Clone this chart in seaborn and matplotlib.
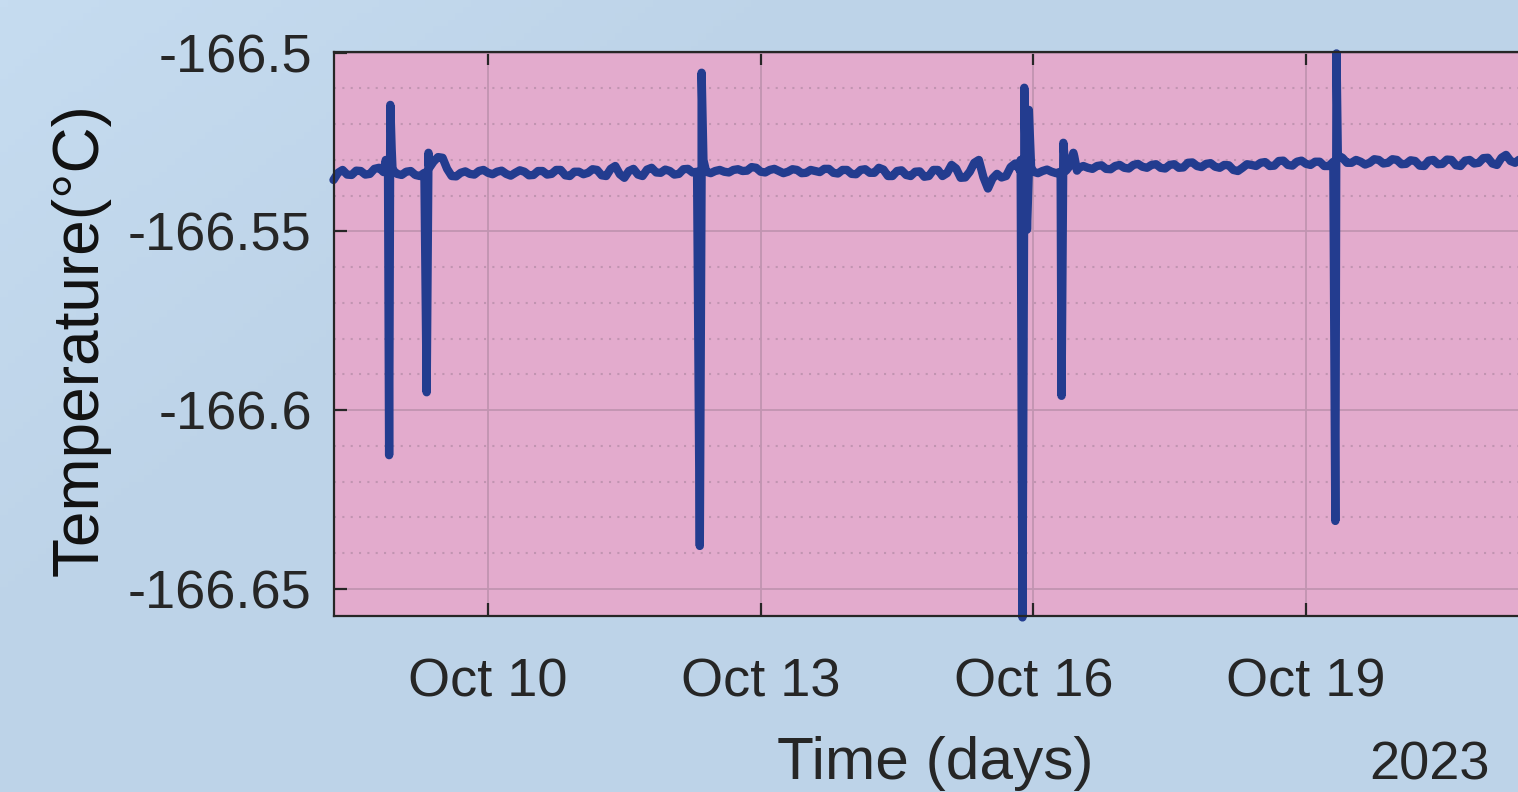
import numpy as np
import pandas as pd
import matplotlib
matplotlib.use("Agg")
import matplotlib.pyplot as plt
import matplotlib.dates as mdates
from matplotlib.ticker import FixedLocator, MultipleLocator
import seaborn as sns

# ---------------- data ----------------
# regular baseline readings every 72 min starting Oct 8, 07:12
base_start = "2023-10-08 07:12"
base_temps = [
    -166.5356, -166.5336, -166.5328, -166.5341, -166.5342, -166.5330, -166.5331, -166.5341, -166.5339, -166.5325,
    -166.5322, -166.5334, -166.5333, -166.5330, -166.5339, -166.5342, -166.5333, -166.5331, -166.5342, -166.5345,
    -166.5336, -166.5315, -166.5305, -166.5292, -166.5294, -166.5325, -166.5345, -166.5346, -166.5336, -166.5332,
    -166.5339, -166.5341, -166.5331, -166.5328, -166.5336, -166.5340, -166.5333, -166.5330, -166.5339, -166.5344,
    -166.5336, -166.5329, -166.5333, -166.5343, -166.5342, -166.5331, -166.5331, -166.5341, -166.5339, -166.5328,
    -166.5328, -166.5343, -166.5345, -166.5333, -166.5333, -166.5340, -166.5336, -166.5326, -166.5328, -166.5343,
    -166.5345, -166.5325, -166.5317, -166.5340, -166.5350, -166.5331, -166.5325, -166.5341, -166.5345, -166.5327,
    -166.5322, -166.5335, -166.5336, -166.5327, -166.5331, -166.5341, -166.5339, -166.5326, -166.5325, -166.5335,
    -166.5333, -166.5330, -166.5333, -166.5337, -166.5331, -166.5328, -166.5333, -166.5335, -166.5328, -166.5326,
    -166.5331, -166.5330, -166.5320, -166.5322, -166.5333, -166.5335, -166.5328, -166.5325, -166.5331, -166.5337,
    -166.5333, -166.5326, -166.5328, -166.5337, -166.5336, -166.5328, -166.5331, -166.5334, -166.5325, -166.5325,
    -166.5336, -166.5338, -166.5328, -166.5328, -166.5339, -166.5340, -166.5328, -166.5326, -166.5336, -166.5336,
    -166.5322, -166.5327, -166.5345, -166.5345, -166.5331, -166.5329, -166.5342, -166.5345, -166.5333, -166.5332,
    -166.5347, -166.5345, -166.5328, -166.5328, -166.5345, -166.5337, -166.5314, -166.5324, -166.5350, -166.5349,
    -166.5333, -166.5308, -166.5300, -166.5348, -166.5380, -166.5352, -166.5339, -166.5349, -166.5345, -166.5320,
    -166.5310, -166.5328, -166.5333, -166.5329, -166.5333, -166.5337, -166.5331, -166.5327, -166.5333, -166.5337,
    -166.5333, -166.5320, -166.5317, -166.5290, -166.5322, -166.5317, -166.5322, -166.5325, -166.5317, -166.5315,
    -166.5325, -166.5326, -166.5317, -166.5314, -166.5322, -166.5324, -166.5314, -166.5311, -166.5319, -166.5322,
    -166.5314, -166.5312, -166.5322, -166.5324, -166.5314, -166.5312, -166.5322, -166.5321, -166.5308, -166.5307,
    -166.5317, -166.5320, -166.5311, -166.5309, -166.5319, -166.5322, -166.5314, -166.5315, -166.5328, -166.5331,
    -166.5322, -166.5312, -166.5314, -166.5317, -166.5308, -166.5306, -166.5317, -166.5316, -166.5303, -166.5302,
    -166.5314, -166.5316, -166.5305, -166.5302, -166.5311, -166.5314, -166.5305, -166.5305, -166.5317, -166.5317,
    -166.5305, -166.5296, -166.5294, -166.5308, -166.5308, -166.5300, -166.5305, -166.5313, -166.5308, -166.5298,
    -166.5300, -166.5310, -166.5308, -166.5298, -166.5300, -166.5312, -166.5311, -166.5301, -166.5303, -166.5316,
    -166.5317, -166.5302, -166.5300, -166.5312, -166.5311, -166.5299, -166.5300, -166.5315, -166.5317, -166.5302,
    -166.5300, -166.5310, -166.5308, -166.5295, -166.5294, -166.5310, -166.5314, -166.5294, -166.5286, -166.5303,
    -166.5308, -166.5298, -166.5300, -166.5308, -166.5305,
]

# irregular excursions (day of October, temperature)
spike_days = [
    8.875, 8.912, 8.925, 8.940, 8.960,
    9.325, 9.345, 9.360,
    12.330, 12.350, 12.370,
    15.860, 15.880, 15.900, 15.930, 15.950, 15.975,
    16.310, 16.330, 16.360, 16.440, 16.480,
    19.322, 19.335, 19.370,
]
spike_temps = [
    -166.5300, -166.6126, -166.5146, -166.5270, -166.5330,
    -166.5950, -166.5280, -166.5320,
    -166.6380, -166.5056, -166.5300,
    -166.5300, -166.6580, -166.5098, -166.5495, -166.5160, -166.5320,
    -166.5960, -166.5252, -166.5330, -166.5280, -166.5330,
    -166.6310, -166.5002, -166.5290,
]

y_ticks = [-166.65, -166.6, -166.55, -166.5]
y_tick_labels = ["-166.65", "-166.6", "-166.55", "-166.5"]
x_tick_dates = ["2023-10-10", "2023-10-13", "2023-10-16", "2023-10-19"]
x_limits = ["2023-10-08 07:20", "2023-10-21 12:43"]
y_limits = [-166.6576, -166.4998]

# ---------------- build frame ----------------
base_time = pd.date_range(base_start, periods=len(base_temps), freq="72min")
spike_time = pd.Timestamp("2023-10-01") + pd.to_timedelta(np.array(spike_days) - 1.0, unit="D")
df = pd.DataFrame({
    "time": list(base_time) + list(spike_time),
    "temp": list(base_temps) + list(spike_temps),
}).sort_values("time", kind="stable").reset_index(drop=True)

# ---------------- style ----------------
sns.set_theme(style="white")
plt.rcParams["font.family"] = ["Liberation Sans", "DejaVu Sans"]
plt.rcParams["axes.unicode_minus"] = False

W, H, DPI = 1518, 792, 100
fig = plt.figure(figsize=(W / DPI, H / DPI), dpi=DPI)

# gradient background
bg = fig.add_axes([0, 0, 1, 1], zorder=-10)
gx, gy = np.meshgrid(np.linspace(0, 1, 200), np.linspace(0, 1, 120))
t = np.clip((gx * 0.6 + gy * 0.4) * 3.0, 0, 1)
c0 = np.array([198, 220, 240]) / 255.0
c1 = np.array([189, 211, 232]) / 255.0
img = c0[None, None, :] * (1 - t[..., None]) + c1[None, None, :] * t[..., None]
bg.imshow(img, aspect="auto", extent=[0, 1, 0, 1], origin="upper")
bg.axis("off")

ax = fig.add_axes([334 / W, 1 - 616 / H, (1536 - 334) / W, (616 - 52) / H])
ax.set_facecolor("#e3abcd")

sns.lineplot(data=df, x="time", y="temp", ax=ax, color="#233c8f", linewidth=6.0,
             estimator=None, sort=False, legend=False, clip_on=False,
             solid_capstyle="round", solid_joinstyle="round")

ax.set_xlim(pd.Timestamp(x_limits[0]), pd.Timestamp(x_limits[1]))
ax.set_ylim(*y_limits)

ax.xaxis.set_major_locator(FixedLocator([mdates.date2num(pd.Timestamp(d)) for d in x_tick_dates]))
ax.xaxis.set_major_formatter(mdates.DateFormatter("%b %d"))
ax.set_yticks(y_ticks)
ax.set_yticklabels(y_tick_labels)
ax.yaxis.set_minor_locator(MultipleLocator(0.01))

grid_col = "#c194b1"
ax.grid(True, which="major", axis="both", color=grid_col, linewidth=1.3, linestyle="-")
ax.grid(True, which="minor", axis="y", color=grid_col, linewidth=1.5, linestyle=(0, (1, 3)))
ax.set_axisbelow(True)

txt_col = "#262626"
for side in ["left", "bottom", "top"]:
    ax.spines[side].set_visible(True)
    ax.spines[side].set_color(txt_col)
    ax.spines[side].set_linewidth(1.6)
ax.spines["right"].set_visible(False)

ax.tick_params(axis="both", which="major", direction="in", length=9.5, width=1.6,
               color=txt_col, labelcolor=txt_col, labelsize=39)
ax.tick_params(axis="x", which="major", top=True, bottom=True, pad=30)
ax.tick_params(axis="y", which="major", left=True, right=False, pad=16)
ax.tick_params(axis="y", which="minor", left=False, right=False)

ax.set_xlabel("Time (days)", fontsize=43.5, color=txt_col)
ax.set_ylabel("Temperature(°C)", fontsize=46, color="#111111")
ax.xaxis.set_label_coords(0.5, -0.212)
ax.yaxis.set_label_coords(-0.186, 0.49)

fig.text(1490 / W, 1 - 765 / H, "2023", fontsize=39, color=txt_col, ha="right", va="center")

fig.savefig("out.png", dpi=DPI)
